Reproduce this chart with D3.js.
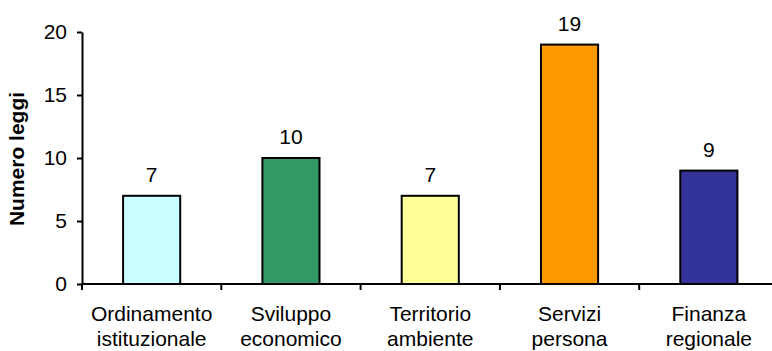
<!DOCTYPE html>
<html>
<head>
<meta charset="utf-8">
<script src="https://cdn.jsdelivr.net/npm/d3@7"></script>
<style>
  html, body { margin: 0; padding: 0; background: #fff; }
  svg { display: block; font-family: Arial, "Liberation Sans", sans-serif; }
</style>
</head>
<body>
<svg id="chart" width="772" height="351"></svg>
<script>
// Leggi approvate per settore
const categories = [
  ["Ordinamento", "istituzionale"],
  ["Sviluppo", "economico"],
  ["Territorio", "ambiente"],
  ["Servizi", "persona"],
  ["Finanza", "regionale"]
];
const values = [7, 10, 7, 19, 9];
const colors = ["#CCFFFF", "#339966", "#FFFF99", "#FF9900", "#333399"];
const yTicks = [0, 5, 10, 15, 20];
const yTitle = "Numero leggi";

const svg = d3.select("#chart");
const plotLeft = 82, plotRight = 778.5, plotTop = 32, plotBottom = 284;
const fontSize = 21;

const keys = categories.map(c => c.join(" "));
const x = d3.scaleBand().domain(keys).range([plotLeft, plotRight]).paddingInner(0).paddingOuter(0);
const y = d3.scaleLinear().domain([0, 20]).range([plotBottom, plotTop]);
const barW = x.bandwidth() * 0.41;

// bars
svg.append("g").selectAll("rect")
  .data(values)
  .join("rect")
  .attr("x", (d, i) => x(keys[i]) + (x.bandwidth() - barW) / 2)
  .attr("y", d => y(d))
  .attr("width", barW)
  .attr("height", d => y(0) - y(d))
  .attr("fill", (d, i) => colors[i])
  .attr("stroke", "#000")
  .attr("stroke-width", 2);

// value labels
svg.append("g").selectAll("text")
  .data(values)
  .join("text")
  .attr("x", (d, i) => x(keys[i]) + x.bandwidth() / 2)
  .attr("y", d => y(d) - 14)
  .attr("text-anchor", "middle")
  .attr("font-size", fontSize)
  .attr("fill", "#000")
  .text(d => d);

// y axis
const yAxis = svg.append("g")
  .attr("transform", `translate(${plotLeft},0)`)
  .call(d3.axisLeft(y).tickValues(yTicks).tickSize(5).tickSizeOuter(0).tickPadding(10));
yAxis.select(".domain").attr("stroke", "#000").attr("stroke-width", 2);
yAxis.selectAll(".tick line").attr("stroke", "#000").attr("stroke-width", 2);
yAxis.selectAll(".tick text")
  .attr("font-size", fontSize)
  .attr("font-family", "Arial, 'Liberation Sans', sans-serif")
  .attr("fill", "#000");

// x axis: ticks at the category boundaries
const bounds = keys.map(k => x(k)).concat([plotRight]);
const xg = svg.append("g");
xg.append("line")
  .attr("x1", plotLeft - 1).attr("x2", plotRight)
  .attr("y1", y(0)).attr("y2", y(0))
  .attr("stroke", "#000").attr("stroke-width", 2);
xg.selectAll("line.tk")
  .data(bounds)
  .join("line")
  .attr("class", "tk")
  .attr("x1", d => d).attr("x2", d => d)
  .attr("y1", y(0)).attr("y2", y(0) + 6)
  .attr("stroke", "#000").attr("stroke-width", 2);

// category labels (two lines each)
const cat = xg.selectAll("text.cat")
  .data(categories)
  .join("text")
  .attr("class", "cat")
  .attr("text-anchor", "middle")
  .attr("font-size", fontSize)
  .attr("fill", "#000");
cat.each(function(d, i) {
  const cx = x(keys[i]) + x.bandwidth() / 2;
  d3.select(this).selectAll("tspan")
    .data(d)
    .join("tspan")
    .attr("x", cx)
    .attr("y", (t, j) => y(0) + 37 + j * 25)
    .text(t => t);
});

// y axis title
svg.append("text")
  .attr("transform", `translate(24,${(plotTop + plotBottom) / 2 + 1}) rotate(-90)`)
  .attr("text-anchor", "middle")
  .attr("font-size", fontSize)
  .attr("font-weight", "bold")
  .attr("fill", "#000")
  .text(yTitle);
</script>
</body>
</html>
